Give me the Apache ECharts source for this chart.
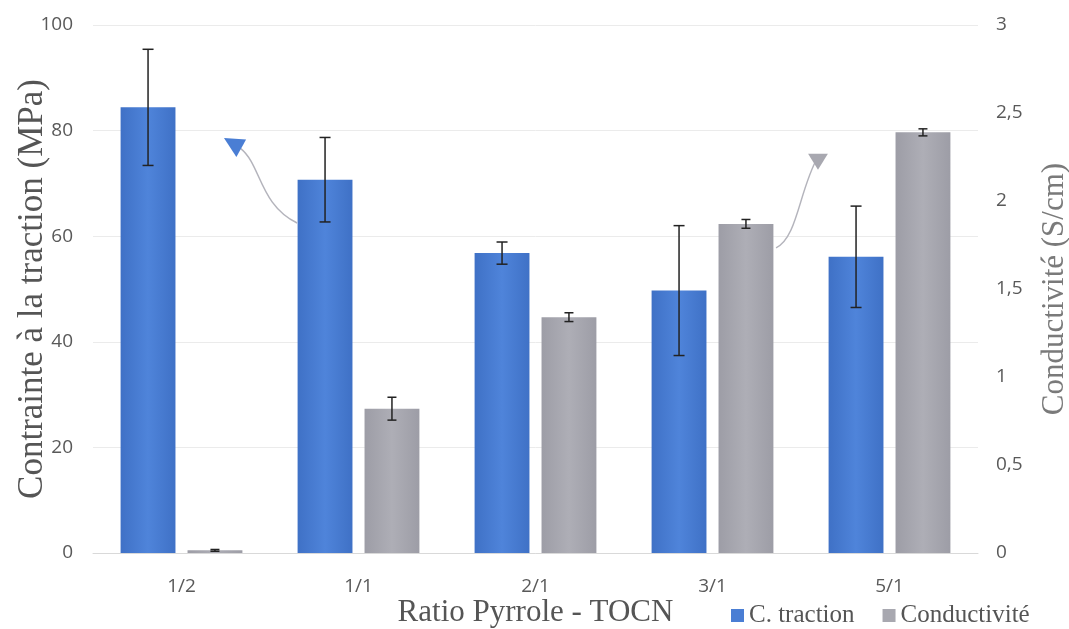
<!DOCTYPE html>
<html>
<head>
<meta charset="utf-8">
<script src="https://cdn.jsdelivr.net/npm/echarts@6/dist/echarts.min.js"></script>
<style>
  html, body { margin: 0; padding: 0; background: #ffffff; }
  #chart { width: 1069px; height: 629px; }
</style>
</head>
<body>
<div id="chart"></div>
<script>
// ---- data ----
var categories = ['1/2', '1/1', '2/1', '3/1', '5/1'];
var traction = [84.4, 70.7, 56.8, 49.7, 56.1];          // MPa
var tractionErr = [11.0, 8.0, 2.1, 12.3, 9.6];
var conductivity = [0.015, 0.82, 1.34, 1.87, 2.39];     // S/cm
var conductivityErr = [0.005, 0.065, 0.025, 0.025, 0.02];
var leftTicks = [0, 20, 40, 60, 80, 100];
var rightTicks = [0, 0.5, 1, 1.5, 2, 2.5, 3];

var BLUE = '#4a7ed4';
var GRAY = '#a8a8b0';
var serif = '"Liberation Serif", "DejaVu Serif", serif';
var sans = '"Open Sans", "DejaVu Sans", sans-serif';

function errData(vals, errs) {
  return vals.map(function (v, i) { return [i, v, errs[i]]; });
}

function errRenderer(sign, capHalf) {
  return function (params, api) {
    var i = api.value(0), v = api.value(1), e = api.value(2);
    var bw = api.size([1, 0])[0];
    var off = sign * 0.189 * bw;
    var top = api.coord([i, v + e]);
    var bot = api.coord([i, v - e]);
    var x = top[0] + off;
    var style = { stroke: '#222', lineWidth: 1.5 };
    return {
      type: 'group',
      children: [
        { type: 'line', shape: { x1: x, y1: top[1], x2: x, y2: bot[1] }, style: style },
        { type: 'line', shape: { x1: x - capHalf, y1: top[1], x2: x + capHalf, y2: top[1] }, style: style },
        { type: 'line', shape: { x1: x - capHalf, y1: bot[1], x2: x + capHalf, y2: bot[1] }, style: style }
      ]
    };
  };
}

var chart = echarts.init(document.getElementById('chart'), null, { renderer: 'canvas' });

var option = {
  backgroundColor: '#ffffff',
  animation: false,
  grid: { left: 93, right: 91, top: 25, bottom: 76, containLabel: false, outerBoundsMode: 'none' },
  legend: {
    data: [
      { name: 'C. traction', itemStyle: { color: BLUE } },
      { name: 'Conductivité', itemStyle: { color: GRAY } }
    ],
    left: 726, top: 598,
    icon: 'rect', itemWidth: 13, itemHeight: 13, itemGap: 28,
    textStyle: { fontFamily: serif, fontSize: 25, color: '#555555' }
  },
  xAxis: {
    type: 'category',
    data: categories,
    name: 'Ratio Pyrrole - TOCN',
    nameLocation: 'middle',
    nameGap: 44,
    nameMoveOverlap: false,
    nameTextStyle: { fontFamily: serif, fontSize: 31, color: '#555555' },
    axisLine: { show: true, lineStyle: { color: '#d9d9d9', width: 1 } },
    axisTick: { show: false },
    axisLabel: { fontFamily: sans, fontSize: 19, color: '#595959', margin: 24 }
  },
  yAxis: [
    {
      type: 'value', min: 0, max: 100, interval: 20,
      name: 'Contrainte à la traction (MPa)',
      nameLocation: 'middle', nameGap: 43, nameRotate: 90,
      nameMoveOverlap: false,
      nameTextStyle: { fontFamily: serif, fontSize: 35, color: '#555555' },
      axisLine: { show: false }, axisTick: { show: false },
      axisLabel: { fontFamily: sans, fontSize: 19, color: '#595959', margin: 20,
        formatter: function (v) { return leftTicks.indexOf(v) >= 0 ? String(v) : ''; } },
      splitLine: { show: true, lineStyle: { color: '#ebebeb', width: 1 } }
    },
    {
      type: 'value', min: 0, max: 3, interval: 0.5,
      name: 'Conductivité (S/cm)',
      nameLocation: 'middle', nameGap: 61, nameRotate: 90,
      nameMoveOverlap: false,
      nameTextStyle: { fontFamily: serif, fontSize: 31, color: '#7a7a7a' },
      axisLine: { show: false }, axisTick: { show: false },
      axisLabel: { fontFamily: sans, fontSize: 19, color: '#595959', margin: 18, align: 'left',
        formatter: function (v) { return rightTicks.indexOf(v) >= 0 ? String(v).replace('.', ',') : ''; } },
      splitLine: { show: false }
    }
  ],
  series: [
    {
      name: 'C. traction', type: 'bar', yAxisIndex: 0,
      data: traction, barWidth: '31%', barGap: '22%',
      itemStyle: {
        color: new echarts.graphic.LinearGradient(0, 0, 1, 0, [
          { offset: 0, color: '#3f71c6' }, { offset: 0.5, color: '#4f84da' }, { offset: 1, color: '#3f71c6' }
        ])
      }
    },
    {
      name: 'Conductivité', type: 'bar', yAxisIndex: 1,
      data: conductivity, barWidth: '31%', barGap: '22%',
      itemStyle: {
        color: new echarts.graphic.LinearGradient(0, 0, 1, 0, [
          { offset: 0, color: '#9d9da6' }, { offset: 0.5, color: '#aeaeb6' }, { offset: 1, color: '#9d9da6' }
        ])
      }
    },
    {
      type: 'custom', yAxisIndex: 0, z: 10, silent: true,
      renderItem: errRenderer(-1, 5.5),
      encode: { x: 0, y: 1 },
      data: errData(traction, tractionErr)
    },
    {
      type: 'custom', yAxisIndex: 1, z: 10, silent: true,
      renderItem: errRenderer(1, 4.5),
      encode: { x: 0, y: 1 },
      data: errData(conductivity, conductivityErr)
    }
  ]
};

chart.setOption(option);

// ---- annotation arrows, anchored to the axes ----
function pt(cf, v) {
  var x0 = chart.convertToPixel({ xAxisIndex: 0 }, categories[0]);
  var x1 = chart.convertToPixel({ xAxisIndex: 0 }, categories[1]);
  var y = chart.convertToPixel({ yAxisIndex: 0 }, v);
  return [x0 + cf * (x1 - x0), y];
}
var blueArrow = { s: [0.653, 62.5], c1: [0.44, 66.0], c2: [0.45, 73.5], e: [0.335, 76.6],
  head: [[0.24, 78.6], [0.365, 78.3], [0.31, 75.0]] };
var grayArrow = { s: [3.359, 57.8], c1: [3.48, 59.7], c2: [3.49, 68.8], e: [3.595, 75.0],
  head: [[3.596, 72.6], [3.54, 75.6], [3.652, 75.6]] };

function arrowGraphics(a, headColor) {
  var s = pt(a.s[0], a.s[1]), c1 = pt(a.c1[0], a.c1[1]), c2 = pt(a.c2[0], a.c2[1]), e = pt(a.e[0], a.e[1]);
  return [
    { type: 'bezierCurve', silent: true, z: 5,
      shape: { x1: s[0], y1: s[1], cpx1: c1[0], cpy1: c1[1], cpx2: c2[0], cpy2: c2[1], x2: e[0], y2: e[1] },
      style: { stroke: '#b4b4bc', lineWidth: 1.5, fill: null } },
    { type: 'polygon', silent: true, z: 6,
      shape: { points: a.head.map(function (p) { return pt(p[0], p[1]); }) },
      style: { fill: headColor } }
  ];
}
chart.setOption({ graphic: arrowGraphics(blueArrow, BLUE).concat(arrowGraphics(grayArrow, GRAY)) });
</script>
</body>
</html>
